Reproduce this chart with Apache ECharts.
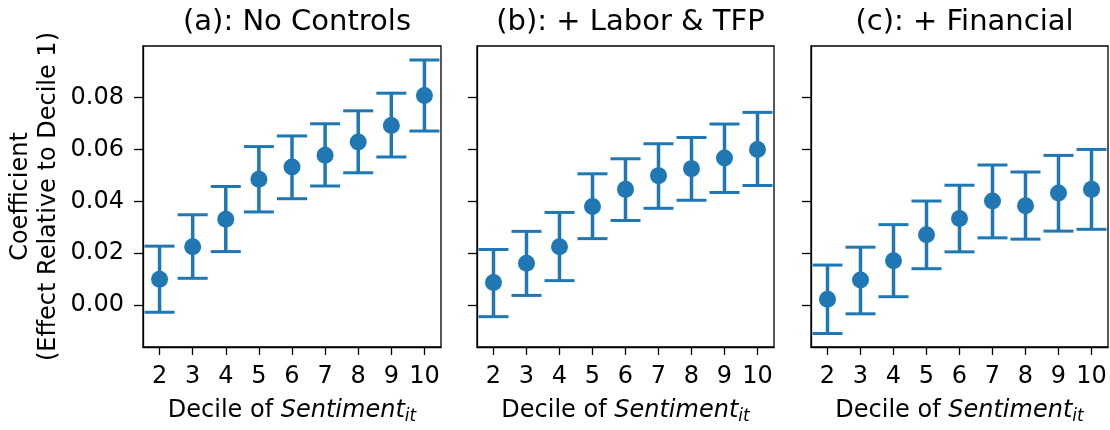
<!DOCTYPE html>
<html lang="en">

<head>
    <meta charset="UTF-8">
    <title>Sentiment deciles</title>
    <style>
        body { margin: 0; background: #fff; }
    </style>
</head>

<body>
    <div id="main" style="width: 1110px;height:430px;"></div>
    <script src="https://cdn.jsdelivr.net/npm/echarts@6/dist/echarts.min.js"></script>
    <script>
        var deciles = [2, 3, 4, 5, 6, 7, 8, 9, 10];
        var yTicks = [0, 0.02, 0.04, 0.06, 0.08];
        var titles = ['(a): No Controls', '(b): + Labor & TFP', '(c): + Financial'];

        // panel (a)
        var coefA = [0.0099, 0.0225, 0.0331, 0.0485, 0.0532, 0.0578, 0.0629, 0.0692, 0.0808];
        var lowA = [-0.0028, 0.0103, 0.0206, 0.0359, 0.0410, 0.0459, 0.0510, 0.0571, 0.0671];
        var highA = [0.0227, 0.0348, 0.0457, 0.0611, 0.0652, 0.0699, 0.0749, 0.0817, 0.0945];
        // panel (b)
        var coefB = [0.0087, 0.0161, 0.0225, 0.0380, 0.0446, 0.0499, 0.0526, 0.0567, 0.0600];
        var lowB = [-0.0045, 0.0037, 0.0094, 0.0256, 0.0326, 0.0373, 0.0404, 0.0434, 0.0461];
        var highB = [0.0214, 0.0284, 0.0357, 0.0506, 0.0564, 0.0622, 0.0646, 0.0698, 0.0743];
        // panel (c)
        var coefC = [0.0022, 0.0096, 0.0171, 0.0271, 0.0334, 0.0401, 0.0383, 0.0432, 0.0446];
        var lowC = [-0.0110, -0.0034, 0.0032, 0.0140, 0.0205, 0.0259, 0.0254, 0.0285, 0.0292];
        var highC = [0.0154, 0.0223, 0.0310, 0.0401, 0.0462, 0.0540, 0.0513, 0.0577, 0.0600];

        var panels = [
            { coef: coefA, low: lowA, high: highA },
            { coef: coefB, low: lowB, high: highB },
            { coef: coefC, low: lowC, high: highC }
        ];

        var blue = '#1f77b4';
        var font = 'DejaVu Sans';
        var lefts = [143, 477, 811];
        var widths = [298, 297, 297];

        function errorItem(params, api) {
            var x = api.value(0);
            var lo = api.coord([x, api.value(1)]);
            var hi = api.coord([x, api.value(2)]);
            var half = 15;
            var cap = { stroke: blue, lineWidth: 3 };
            return {
                type: 'group',
                children: [
                    { type: 'line', shape: { x1: lo[0], y1: lo[1], x2: hi[0], y2: hi[1] }, style: { stroke: blue, lineWidth: 3.5 } },
                    { type: 'line', shape: { x1: hi[0] - half, y1: hi[1], x2: hi[0] + half, y2: hi[1] }, style: cap },
                    { type: 'line', shape: { x1: lo[0] - half, y1: lo[1], x2: lo[0] + half, y2: lo[1] }, style: cap }
                ]
            };
        }

        var grid = [], xAxis = [], yAxis = [], series = [], title = [];

        panels.forEach(function (p, i) {
            grid.push({
                left: lefts[i], top: 46, width: widths[i], height: 304,
                show: true, borderColor: '#000', borderWidth: 1.3, backgroundColor: '#fff'
            });
            title.push({
                text: titles[i],
                left: lefts[i] + widths[i] / 2,
                top: 3,
                textAlign: 'center',
                textStyle: { fontFamily: font, fontSize: 29, fontWeight: 'normal', color: '#000' }
            });
            xAxis.push({
                type: 'value', gridIndex: i, min: 1.5, max: 10.5,
                splitLine: { show: false },
                axisLine: { onZero: false, lineStyle: { color: '#000', width: 1.3 } },
                axisTick: { length: 8, lineStyle: { color: '#000', width: 1.3 }, customValues: deciles },
                axisLabel: { customValues: deciles, margin: 18, fontFamily: font, fontSize: 24, color: '#000' },
                nameLocation: 'middle',
                nameGap: 50,
                name: '{n|Decile of }{i|Sentiment}{s|it}',
                nameTextStyle: {
                    rich: {
                        n: { fontFamily: font, fontSize: 24, color: '#000' },
                        i: { fontFamily: font, fontSize: 24, fontStyle: 'italic', color: '#000' },
                        s: { fontFamily: font, fontSize: 17, fontStyle: 'italic', color: '#000', padding: [11, 0, 0, 0] }
                    }
                }
            });
            yAxis.push({
                type: 'value', gridIndex: i, min: -0.0162, max: 0.0999,
                splitLine: { show: false },
                axisLine: { show: true, onZero: false, lineStyle: { color: '#000', width: 1.3 } },
                axisTick: { show: true, length: 9, lineStyle: { color: '#000', width: 1.3 }, customValues: yTicks },
                axisLabel: {
                    show: i === 0, customValues: yTicks, margin: 19,
                    fontFamily: font, fontSize: 24, color: '#000',
                    formatter: function (v) { return v.toFixed(2); }
                },
                name: i === 0 ? 'Coefficient\n(Effect Relative to Decile 1)' : '',
                nameLocation: 'middle',
                nameGap: 80,
                nameTextStyle: { fontFamily: font, fontSize: 24, color: '#000', lineHeight: 28 }
            });
            series.push({
                type: 'custom',
                xAxisIndex: i, yAxisIndex: i,
                renderItem: errorItem,
                encode: { x: 0, y: [1, 2] },
                data: deciles.map(function (d, k) { return [d, p.low[k], p.high[k]]; }),
                z: 2
            });
            series.push({
                type: 'scatter',
                xAxisIndex: i, yAxisIndex: i,
                symbolSize: 17,
                itemStyle: { color: blue, opacity: 1 },
                data: deciles.map(function (d, k) { return [d, p.coef[k]]; }),
                z: 3
            });
        });

        var myChart = echarts.init(document.getElementById('main'));
        myChart.setOption({
            animation: false,
            backgroundColor: '#fff',
            title: title,
            grid: grid,
            xAxis: xAxis,
            yAxis: yAxis,
            series: series
        });
    </script>
</body>

</html>
